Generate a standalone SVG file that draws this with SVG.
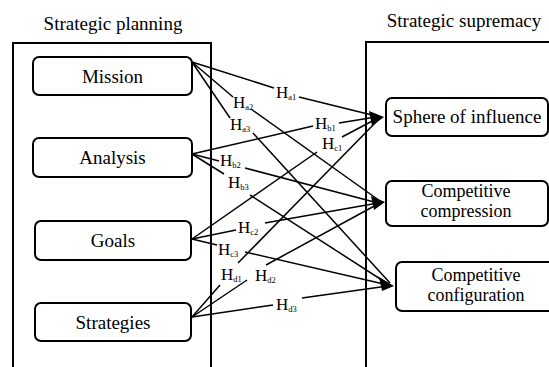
<svg xmlns="http://www.w3.org/2000/svg" width="549" height="367" viewBox="0 0 549 367" font-family="'Liberation Serif', 'Times New Roman', serif">
<style>
text{font-family:'Liberation Serif','Times New Roman',serif;fill:#000}
.t{font-size:19px;text-anchor:middle}
.t2{font-size:18px;text-anchor:middle}
.h{font-size:17px}
.s{font-size:8.5px}
.panel{fill:none;stroke:#000;stroke-width:2}
.box{fill:#fff;stroke:#000;stroke-width:2}
.c line{stroke:#000;stroke-width:1.5}
.ah{fill:#000}
</style>
<rect width="549" height="367" fill="#fff"/>
<g id="panel-left">
<path class="panel" d="M13,367 V43 H211 V367"/>
<text class="t" x="113" y="30">Strategic planning</text>
</g>
<g id="panel-right">
<path class="panel" d="M366,367 V42 H549"/>
<text class="t" x="464" y="27">Strategic supremacy</text>
</g>
<g class="c" id="connectors">
<line x1="192" y1="62" x2="274" y2="88"/><line x1="299" y1="97" x2="376" y2="116"/>
<line x1="192" y1="62" x2="233" y2="97"/><line x1="251" y1="109" x2="380" y2="201"/>
<line x1="192" y1="62" x2="230" y2="118"/><line x1="253" y1="133" x2="390" y2="283"/>
<line x1="192" y1="154" x2="313" y2="126"/><line x1="339" y1="123" x2="376" y2="117"/>
<line x1="192" y1="154" x2="219" y2="161"/><line x1="245" y1="168" x2="378" y2="203"/>
<line x1="192" y1="154" x2="224" y2="174"/><line x1="250" y1="195" x2="388" y2="284"/>
<line x1="192" y1="239" x2="317" y2="152"/><line x1="342" y1="137" x2="378" y2="118"/>
<line x1="192" y1="239" x2="236" y2="230"/><line x1="265" y1="223" x2="378" y2="203"/>
<line x1="192" y1="239" x2="217" y2="245"/><line x1="245" y1="252" x2="388" y2="285"/>
<line x1="192" y1="317" x2="220" y2="285"/><line x1="238" y1="263" x2="378" y2="120"/>
<line x1="192" y1="317" x2="247" y2="280"/><line x1="266" y1="265" x2="378" y2="204"/>
<line x1="192" y1="317" x2="273" y2="305"/><line x1="302" y1="298" x2="388" y2="286"/>
<polygon class="ah" points="384,117 369,111 372,126"/>
<polygon class="ah" points="385,202 371,196 374,210"/>
<polygon class="ah" points="394,286 379,277 382,291"/>
</g>
<g id="labels">
<text class="h" x="276" y="98">H<tspan class="s" dy="2">a1</tspan></text>
<text class="h" x="233" y="108">H<tspan class="s" dy="2">a2</tspan></text>
<text class="h" x="230" y="130">H<tspan class="s" dy="2">a3</tspan></text>
<text class="h" x="315" y="129">H<tspan class="s" dy="2">b1</tspan></text>
<text class="h" x="322" y="149">H<tspan class="s" dy="2">c1</tspan></text>
<text class="h" x="220" y="166">H<tspan class="s" dy="2">b2</tspan></text>
<text class="h" x="228" y="188">H<tspan class="s" dy="2">b3</tspan></text>
<text class="h" x="238" y="233">H<tspan class="s" dy="2">c2</tspan></text>
<text class="h" x="218" y="255">H<tspan class="s" dy="2">c3</tspan></text>
<text class="h" x="221" y="280">H<tspan class="s" dy="2">d1</tspan></text>
<text class="h" x="255" y="281">H<tspan class="s" dy="2">d2</tspan></text>
<text class="h" x="276" y="310">H<tspan class="s" dy="2">d3</tspan></text>
</g>
<g id="mission"><rect class="box" x="33" y="57" width="159" height="38" rx="6"/><text class="t" x="112.5" y="83">Mission</text></g>
<g id="analysis"><rect class="box" x="33" y="138" width="159" height="39" rx="6"/><text class="t" x="112.5" y="164">Analysis</text></g>
<g id="goals"><rect class="box" x="35" y="221" width="156" height="39" rx="6"/><text class="t" x="113" y="247">Goals</text></g>
<g id="strategies"><rect class="box" x="35" y="303" width="156" height="38" rx="6"/><text class="t" x="113" y="329">Strategies</text></g>
<g id="sphere"><rect class="box" x="386" y="98" width="162" height="38" rx="6"/><text class="t" x="467" y="123">Sphere of influence</text></g>
<g id="compression"><rect class="box" x="386" y="181" width="162" height="45" rx="6"/><text class="t2" x="466" y="197">Competitive</text><text class="t2" x="466" y="217">compression</text></g>
<g id="configuration"><rect class="box" x="396" y="262" width="160" height="49" rx="6"/><text class="t2" x="476" y="281">Competitive</text><text class="t2" x="476" y="301">configuration</text></g>
</svg>
